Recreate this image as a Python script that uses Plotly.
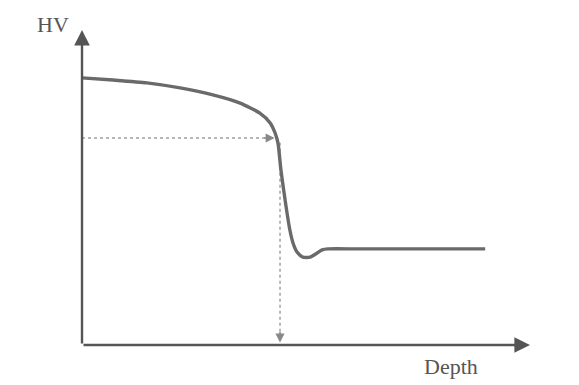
import plotly.graph_objects as go

# Schematic hardness profile (HV vs depth), arbitrary units
depth = [0, 6.9, 14.5, 21.9, 29.2, 35.3, 39.7, 42.0, 43.1, 43.75, 44.4, 45.5, 46.4, 47.1,
         48.0, 49.3, 50.9, 52.5, 53.6, 54.9, 62.0, 90.0]
hv = [84.8, 84.1, 83.2, 81.6, 79.4, 76.8, 73.6, 70.5, 67.3, 64.1, 55.6, 44.4, 36.5, 32.4,
      29.5, 27.9, 27.9, 29.2, 30.2, 30.5, 30.5, 30.5]

# Marker point (depth at threshold hardness)
mark_depth = 43.6
mark_hv = 65.7

axis_x_end = 100
axis_y_end = 100
x_label = "Depth"
y_label = "HV"

line_col = "#6a6a6a"
axis_col = "#555555"
dot_col = "#a0a0a0"

fig = go.Figure()

# dotted guide lines
fig.add_trace(go.Scatter(x=[0, mark_depth - 1.2], y=[mark_hv, mark_hv], mode="lines",
                         line=dict(color=dot_col, width=1.5, dash="dot"), hoverinfo="skip"))
fig.add_trace(go.Scatter(x=[mark_depth + 0.6, mark_depth + 0.6], y=[mark_hv - 1.5, 1.5], mode="lines",
                         line=dict(color=dot_col, width=1.5, dash="dot"), hoverinfo="skip"))

# hardness curve
fig.add_trace(go.Scatter(x=depth, y=hv, mode="lines",
                         line=dict(color=line_col, width=3.4, shape="spline", smoothing=0.6),
                         hoverinfo="skip"))

ann = []
# axes with arrowheads
ann.append(dict(x=0, y=axis_y_end, ax=0, ay=0, xref="x", yref="y", axref="x", ayref="y",
                showarrow=True, arrowhead=2, arrowsize=1.3, arrowwidth=2.4, arrowcolor=axis_col, text=""))
ann.append(dict(x=axis_x_end, y=0, ax=0, ay=0, xref="x", yref="y", axref="x", ayref="y",
                showarrow=True, arrowhead=2, arrowsize=1.3, arrowwidth=2.4, arrowcolor=axis_col, text=""))
# guide arrowheads
ann.append(dict(x=mark_depth - 0.6, y=mark_hv, ax=-12, ay=0, xref="x", yref="y",
                showarrow=True, arrowhead=2, arrowsize=1.2, arrowwidth=1.5, arrowcolor="#888888", text=""))
ann.append(dict(x=mark_depth + 0.6, y=0.8, ax=0, ay=-12, xref="x", yref="y",
                showarrow=True, arrowhead=2, arrowsize=1.2, arrowwidth=1.5, arrowcolor="#888888", text=""))
# axis labels
ann.append(dict(x=-6.5, y=101.6, xref="x", yref="y", text=y_label, showarrow=False,
                font=dict(family="Liberation Serif", size=22, color="#555555")))
ann.append(dict(x=82.4, y=-6.7, xref="x", yref="y", text=x_label, showarrow=False,
                font=dict(family="Liberation Serif", size=22, color="#555555")))

# page body has an 8px margin, so the figure is drawn at (8, 8) in the window
fig.update_layout(
    width=571, height=377,
    margin=dict(l=0, r=0, t=0, b=0),
    paper_bgcolor="white", plot_bgcolor="white",
    showlegend=False,
    annotations=ann,
    xaxis=dict(range=[-16.52, 110.94], visible=False, fixedrange=True),
    yaxis=dict(range=[-12.70, 106.98], visible=False, fixedrange=True),
)

fig.write_html("out.html")
